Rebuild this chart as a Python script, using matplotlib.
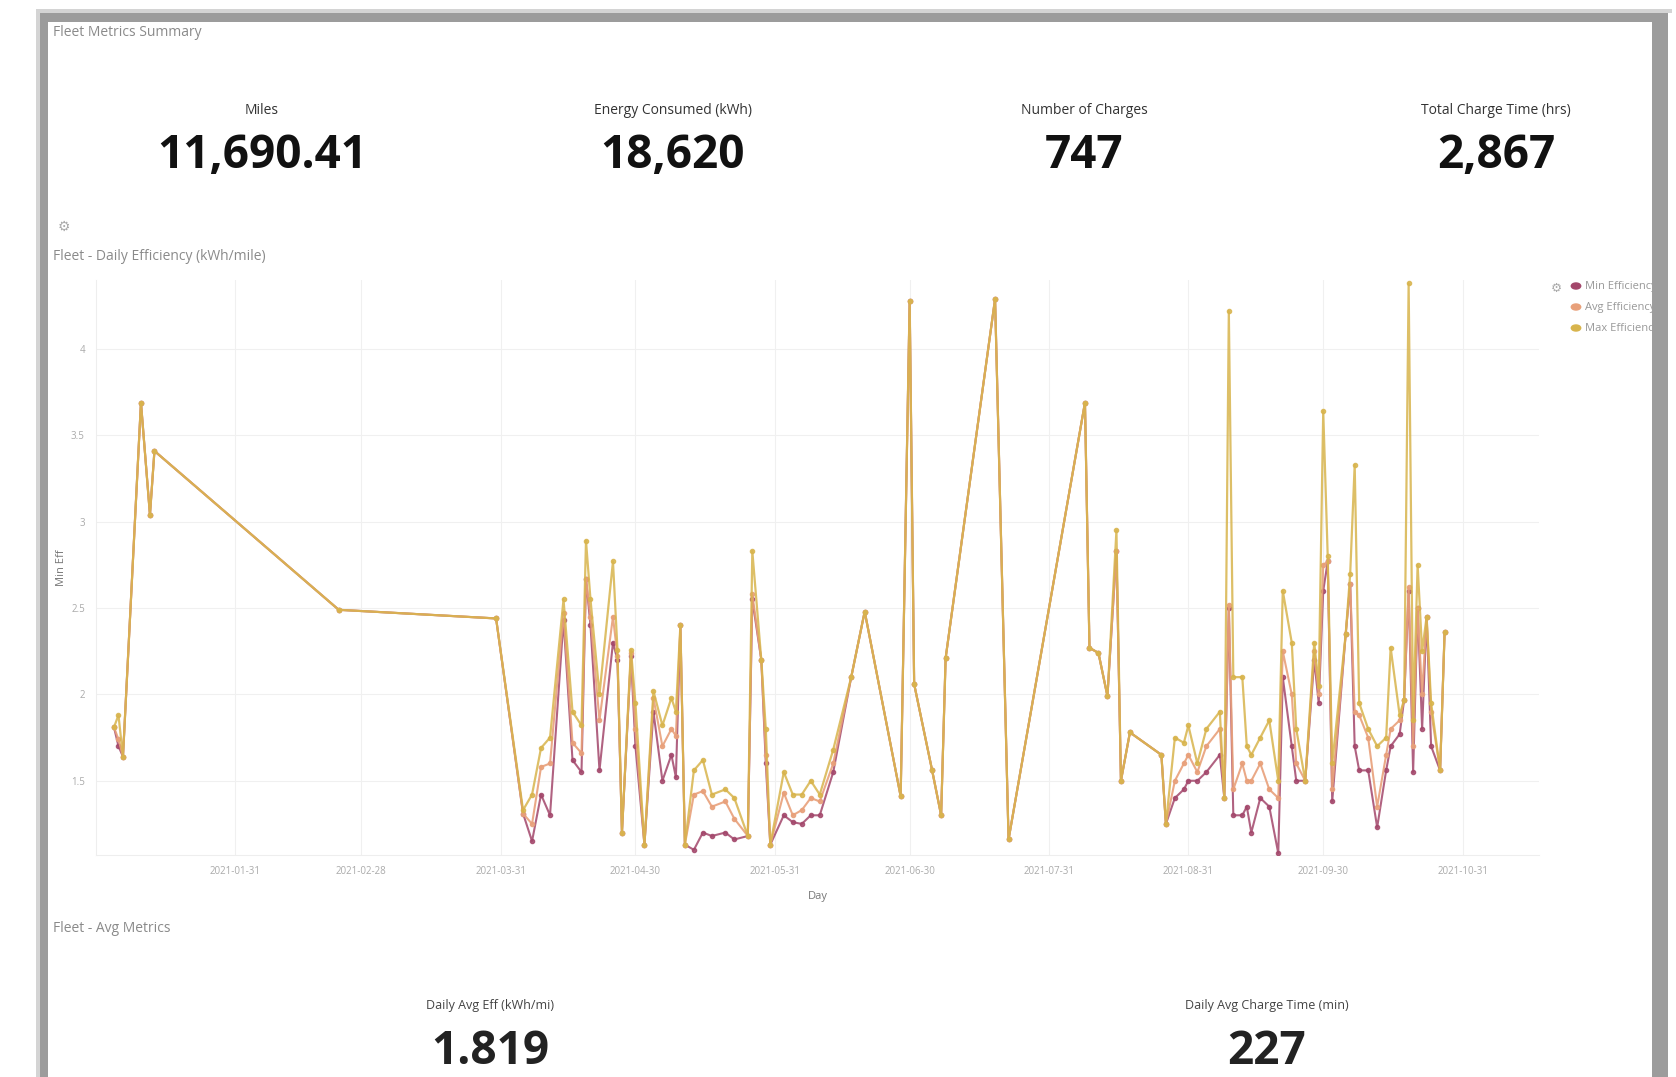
import numpy as np
import pandas as pd
import matplotlib
matplotlib.use('Agg')
import matplotlib.pyplot as plt
import matplotlib.dates as mdates
from matplotlib.patches import Rectangle

plt.rcParams['font.family'] = ['Open Sans', 'DejaVu Sans']

W, H = 1676, 1077

# KPI tiles
kpi_labels = ['Miles', 'Energy Consumed (kWh)', 'Number of Charges', 'Total Charge Time (hrs)']
kpi_values = ['11,690.41', '18,620', '747', '2,867']
avg_labels = ['Daily Avg Eff (kWh/mi)', 'Daily Avg Charge Time (min)']
avg_values = ['1.819', '227']

# daily efficiency (kWh/mile)
days = ['2021-01-04', '2021-01-05', '2021-01-06', '2021-01-10', '2021-01-12', '2021-01-13',
        '2021-02-23', '2021-03-30',
        '2021-04-05', '2021-04-07', '2021-04-09', '2021-04-11', '2021-04-14', '2021-04-16',
        '2021-04-18', '2021-04-19', '2021-04-20', '2021-04-22', '2021-04-25', '2021-04-26',
        '2021-04-27', '2021-04-29', '2021-04-30',
        '2021-05-02', '2021-05-04', '2021-05-06', '2021-05-08', '2021-05-09', '2021-05-10',
        '2021-05-11', '2021-05-13', '2021-05-15', '2021-05-17', '2021-05-20', '2021-05-22',
        '2021-05-25', '2021-05-26', '2021-05-28', '2021-05-29', '2021-05-30',
        '2021-06-02', '2021-06-04', '2021-06-06', '2021-06-08', '2021-06-10', '2021-06-13',
        '2021-06-17', '2021-06-20', '2021-06-28', '2021-06-30',
        '2021-07-01', '2021-07-05', '2021-07-07', '2021-07-08', '2021-07-19', '2021-07-22',
        '2021-08-08', '2021-08-09', '2021-08-11', '2021-08-13', '2021-08-15', '2021-08-16',
        '2021-08-18', '2021-08-25', '2021-08-26', '2021-08-28', '2021-08-30', '2021-08-31',
        '2021-09-02', '2021-09-04', '2021-09-07', '2021-09-08', '2021-09-09', '2021-09-10',
        '2021-09-12', '2021-09-13', '2021-09-14', '2021-09-16', '2021-09-18', '2021-09-20',
        '2021-09-21', '2021-09-23', '2021-09-24', '2021-09-26', '2021-09-28', '2021-09-29',
        '2021-09-30',
        '2021-10-01', '2021-10-02', '2021-10-05', '2021-10-06', '2021-10-07', '2021-10-08',
        '2021-10-10', '2021-10-12', '2021-10-14', '2021-10-15', '2021-10-17', '2021-10-18',
        '2021-10-19', '2021-10-20', '2021-10-21', '2021-10-22', '2021-10-23', '2021-10-24',
        '2021-10-26', '2021-10-27']

eff_min = [1.81, 1.70, 1.64, 3.69, 3.04, 3.41,
           2.49, 2.44,
           1.31, 1.15, 1.42, 1.30, 2.43, 1.62,
           1.55, 2.67, 2.40, 1.56, 2.30, 2.20,
           1.20, 2.22, 1.70,
           1.13, 1.90, 1.50, 1.65, 1.52, 2.40,
           1.13, 1.10, 1.20, 1.18, 1.20, 1.16,
           1.18, 2.55, 2.20, 1.60, 1.13,
           1.30, 1.26, 1.25, 1.30, 1.30, 1.55,
           2.10, 2.48, 1.41, 4.28,
           2.06, 1.56, 1.30, 2.21, 4.29, 1.16,
           3.69, 2.27, 2.24, 1.99, 2.83, 1.50,
           1.78, 1.65, 1.25, 1.40, 1.45, 1.50,
           1.50, 1.55, 1.65, 1.40, 2.50, 1.30,
           1.30, 1.35, 1.20, 1.40, 1.35, 1.08,
           2.10, 1.70, 1.50, 1.50, 2.20, 1.95,
           2.60,
           2.77, 1.38, 2.35, 2.64, 1.70, 1.56,
           1.56, 1.23, 1.56, 1.70, 1.77, 1.97,
           2.60, 1.55, 2.50, 1.80, 2.45, 1.70,
           1.56, 2.36]

eff_avg = [1.81, 1.74, 1.64, 3.69, 3.04, 3.41,
           2.49, 2.44,
           1.31, 1.25, 1.58, 1.60, 2.47, 1.72,
           1.66, 2.67, 2.45, 1.85, 2.45, 2.22,
           1.20, 2.24, 1.80,
           1.13, 1.98, 1.70, 1.80, 1.76, 2.40,
           1.13, 1.42, 1.44, 1.35, 1.38, 1.28,
           1.18, 2.58, 2.20, 1.65, 1.13,
           1.43, 1.30, 1.33, 1.40, 1.38, 1.60,
           2.10, 2.48, 1.41, 4.28,
           2.06, 1.56, 1.30, 2.21, 4.29, 1.16,
           3.69, 2.27, 2.24, 1.99, 2.83, 1.50,
           1.78, 1.65, 1.25, 1.50, 1.60, 1.65,
           1.55, 1.70, 1.80, 1.40, 2.52, 1.45,
           1.60, 1.50, 1.50, 1.60, 1.45, 1.40,
           2.25, 2.00, 1.60, 1.50, 2.25, 2.00,
           2.75,
           2.77, 1.45, 2.35, 2.64, 1.90, 1.88,
           1.75, 1.35, 1.65, 1.80, 1.85, 1.97,
           2.62, 1.70, 2.50, 2.00, 2.45, 1.90,
           1.56, 2.36]

eff_max = [1.81, 1.88, 1.64, 3.69, 3.04, 3.41,
           2.49, 2.44,
           1.33, 1.42, 1.69, 1.75, 2.55, 1.90,
           1.82, 2.89, 2.55, 2.00, 2.77, 2.26,
           1.20, 2.26, 1.95,
           1.13, 2.02, 1.82, 1.98, 1.90, 2.40,
           1.13, 1.56, 1.62, 1.42, 1.45, 1.40,
           1.18, 2.83, 2.20, 1.80, 1.13,
           1.55, 1.42, 1.42, 1.50, 1.42, 1.68,
           2.10, 2.48, 1.41, 4.28,
           2.06, 1.56, 1.30, 2.21, 4.29, 1.16,
           3.69, 2.27, 2.24, 1.99, 2.95, 1.50,
           1.78, 1.65, 1.25, 1.75, 1.72, 1.82,
           1.60, 1.80, 1.90, 1.40, 4.22, 2.10,
           2.10, 1.70, 1.65, 1.75, 1.85, 1.50,
           2.60, 2.30, 1.80, 1.50, 2.30, 2.05,
           3.64,
           2.80, 1.60, 2.35, 2.70, 3.33, 1.95,
           1.80, 1.70, 1.75, 2.27, 1.88, 1.97,
           4.38, 1.85, 2.75, 2.25, 2.45, 1.95,
           1.56, 2.36]

tick_days = ['2021-01-31', '2021-02-28', '2021-03-31', '2021-04-30', '2021-05-31',
             '2021-06-30', '2021-07-31', '2021-08-31', '2021-09-30', '2021-10-31']
y_ticks = [1.5, 2, 2.5, 3, 3.5, 4]
y_tick_labels = ['1.5', '2', '2.5', '3', '3.5', '4']

c_min = '#a3476b'
c_avg = '#e8a07a'
c_max = '#d8b44c'


def fx(x):
    return x / W


def fy(y):
    return 1 - y / H


fig = plt.figure(figsize=(W / 100, H / 100), dpi=100)
fig.patch.set_facecolor('white')

# screenshot frame
frame = dict(transform=fig.transFigure, zorder=50, linewidth=0)
fig.patches.append(Rectangle((fx(40), fy(1077)), (48 - 40) / W, (1077 - 13) / H, facecolor='#9c9c9c', **frame))
fig.patches.append(Rectangle((fx(40), fy(22)), (1668 - 40) / W, 9 / H, facecolor='#9c9c9c', **frame))
fig.patches.append(Rectangle((fx(1652), fy(1077)), 16 / W, (1077 - 13) / H, facecolor='#9c9c9c', **frame))
fig.patches.append(Rectangle((fx(1668), 0), 8 / W, 1, facecolor='white', **frame))
fig.patches.append(Rectangle((fx(36), fy(1077)), 4 / W, (1077 - 9) / H, facecolor='#d4d4d4', **frame))
fig.patches.append(Rectangle((fx(36), fy(13)), (1672 - 36) / W, 4 / H, facecolor='#d4d4d4', **frame))

# top KPI panel
fig.text(fx(53), fy(33), 'Fleet Metrics Summary', fontsize=10, color='#8a8a8a', va='center', ha='left')
kpi_x = [262, 673, 1084, 1496]
for x, lab, val in zip(kpi_x, kpi_labels, kpi_values):
    fig.text(fx(x), fy(111), lab, fontsize=10, color='#333333', ha='center', va='center')
    fig.text(fx(x), fy(155), val, fontsize=33, fontweight='bold', color='#111111', ha='center', va='center')

# chart panel
fig.text(fx(64), fy(227), '\u2699', fontsize=10, color='#aaaaaa', ha='center', va='center',
         family='DejaVu Sans')
fig.text(fx(53), fy(257), 'Fleet - Daily Efficiency (kWh/mile)', fontsize=10, color='#8a8a8a',
         ha='left', va='center')

ax = fig.add_axes([fx(96), fy(855), (1539 - 96) / W, (855 - 280) / H])
dates = pd.to_datetime(days)

ax.plot(dates, eff_min, color=c_min, lw=1.5, marker='o', ms=3, zorder=3, alpha=0.85)
ax.plot(dates, eff_avg, color=c_avg, lw=1.5, marker='o', ms=3, zorder=4, alpha=0.9)
ax.plot(dates, eff_max, color=c_max, lw=1.6, marker='o', ms=3, zorder=5, alpha=0.85)

ax.set_xlim(pd.Timestamp('2020-12-31'), pd.Timestamp('2021-11-17'))
ax.set_ylim(1.07, 4.40)
ax.set_xticks(pd.to_datetime(tick_days))
ax.xaxis.set_major_formatter(mdates.DateFormatter('%Y-%m-%d'))
ax.set_yticks(y_ticks)
ax.set_yticklabels(y_tick_labels)
ax.tick_params(axis='both', labelsize=7, colors='#aaaaaa', length=0, pad=8)
ax.grid(True, color='#f0f0f0', lw=0.8)
ax.set_axisbelow(True)
for s in ['top', 'right']:
    ax.spines[s].set_visible(False)
for s in ['left', 'bottom']:
    ax.spines[s].set_color('#eeeeee')
ax.set_xlabel('Day', fontsize=8, color='#777777', labelpad=10)
ax.set_ylabel('Min Eff', fontsize=8, color='#777777', labelpad=3)

# legend (cut by the frame)
fig.text(fx(1556), fy(288), '\u2699', fontsize=9, color='#aaaaaa', ha='center', va='center',
         family='DejaVu Sans')
leg_names = ['Min Efficiency', 'Avg Efficiency', 'Max Efficiency']
for i, (name, c) in enumerate(zip(leg_names, [c_min, c_avg, c_max])):
    yy = 286 + i * 21
    fig.patches.append(plt.Circle((fx(1576), fy(yy)), 0.0028, color=c, transform=fig.transFigure))
    fig.text(fx(1585), fy(yy), name, fontsize=8, color='#999999', ha='left', va='center')

# bottom KPI panel
fig.text(fx(53), fy(928), 'Fleet - Avg Metrics', fontsize=10, color='#8a8a8a', ha='left', va='center')
for x, lab, val in zip([490, 1267], avg_labels, avg_values):
    fig.text(fx(x), fy(1006), lab, fontsize=9, color='#444444', ha='center', va='center')
    fig.text(fx(x), fy(1052), val, fontsize=33, fontweight='bold', color='#222222', ha='center', va='center')

fig.savefig('out.png', dpi=100)
